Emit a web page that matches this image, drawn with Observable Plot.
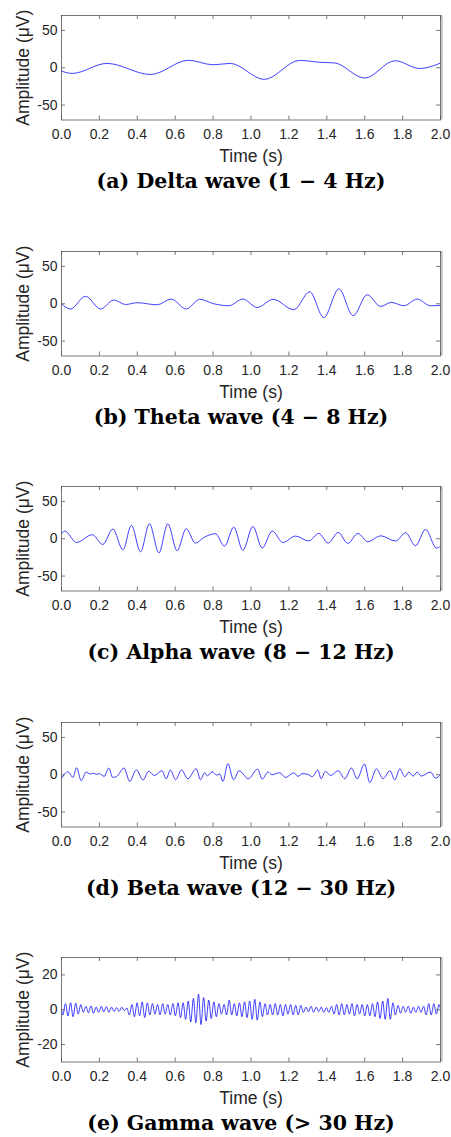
<!DOCTYPE html>
<html>
<head>
<meta charset="utf-8">
<script src="https://cdn.jsdelivr.net/npm/d3@7"></script>
<script src="https://cdn.jsdelivr.net/npm/@observablehq/plot@0.6"></script>
<style>
  html, body { margin: 0; padding: 0; background: #fff; }
  #fig { position: relative; width: 451px; height: 1137px; background: #fff; overflow: hidden; }
  .panel { position: absolute; left: 0; width: 451px; }
  .cap { position: absolute; left: 0; width: 482px; text-align: center;
         font-family: "DejaVu Serif", serif; font-weight: bold; font-size: 20.5px;
         line-height: 20px; color: #000; white-space: nowrap; }
</style>
</head>
<body>
<div id="fig"></div>
<script>
// ---------- data ----------
const xTicks = [0, 0.2, 0.4, 0.6, 0.8, 1.0, 1.2, 1.4, 1.6, 1.8, 2.0];
const yTicks50 = [-50, 0, 50];
const yTicks20 = [-20, 0, 20];

const captions = [
  "(a) Delta wave (1 − 4 Hz)",
  "(b) Theta wave (4 − 8 Hz)",
  "(c) Alpha wave (8 − 12 Hz)",
  "(d) Beta wave (12 − 30 Hz)",
  "(e) Gamma wave (> 30 Hz)"
];

const deltaT = [0, 0.056, 0.24, 0.47, 0.67, 0.80, 0.89, 1.07, 1.256, 1.37, 1.44, 1.60, 1.76, 1.89, 2.0];
const deltaV = [-4.5, -7.6, 5.8, -9, 10, 4, 5.8, -15.6, 9.8, 7.2, 6.5, -13.8, 9.4, -1, 6.2];

const thetaT = [0, 0.047, 0.127, 0.206, 0.276, 0.338, 0.40, 0.505, 0.579, 0.658, 0.73, 0.804, 0.883, 0.957, 1.033, 1.117, 1.226, 1.31, 1.384, 1.464, 1.539, 1.613, 1.684, 1.74, 1.807, 1.877, 1.947, 2.0];
const thetaV = [0, -7, 10, -7, 5, -1, 1.4, -1.4, 6.3, -7, 5.9, 0, -2.7, 6.3, -5, 5.9, -8, 16, -18.5, 20, -16, 12, -3.6, 1.8, -2.7, 6.3, -2.7, -2.2];

const alphaT = [0, 0.018, 0.079, 0.162, 0.218, 0.271, 0.324, 0.369, 0.417, 0.464, 0.514, 0.561, 0.61, 0.658, 0.707, 0.75, 0.813, 0.86, 0.909, 0.957, 1.01, 1.059, 1.112, 1.168, 1.235, 1.305, 1.358, 1.407, 1.46, 1.511, 1.564, 1.617, 1.684, 1.763, 1.816, 1.868, 1.921, 1.979, 2.0];
const alphaV = [6.7, 10.3, -5, 5.4, -7.6, 13, -14.7, 17.9, -17.4, 20, -18.8, 20, -16, 13.4, -6, 1.5, 6.7, -10, 15.6, -15.6, 16.5, -12.5, 10.3, -5, 3.6, -3, 7.1, -5.8, 8.5, -6.2, 7.1, -4, 4, -3, 8, -9.4, 12.5, -12.5, -10];

const betaT = [0, 0.035, 0.06, 0.08, 0.104, 0.13, 0.15, 0.165, 0.185, 0.2, 0.225, 0.25, 0.27, 0.29, 0.33, 0.36, 0.395, 0.43, 0.46, 0.49, 0.53, 0.552, 0.575, 0.602, 0.633, 0.667, 0.711, 0.734, 0.755, 0.77, 0.795, 0.818, 0.835, 0.852, 0.878, 0.908, 0.937, 0.986, 1.035, 1.059, 1.09, 1.11, 1.152, 1.182, 1.226, 1.248, 1.27, 1.3, 1.323, 1.353, 1.37, 1.393, 1.42, 1.46, 1.495, 1.53, 1.56, 1.599, 1.627, 1.662, 1.697, 1.733, 1.759, 1.785, 1.812, 1.833, 1.856, 1.877, 1.898, 1.947, 1.974, 2.0];
const betaV = [-5, 4, -3.6, 9.5, -8, 3.6, 1, 2, 0.5, 1.5, -2.2, 9, -3.6, -2.5, 9, -9, 6.7, -7, 4.5, -1, 5.4, -5.4, 6.3, -6.7, 6.3, -5.4, 8, -6.7, 2.7, -1.4, 4, -0.5, 1, -9, 14.9, -6.7, 5.4, -5.4, 7.6, -5.8, 3.6, 0, 2.7, -3.6, 2.7, -2.2, 1.5, 0.5, -2.5, 6.3, -5.4, 4.5, -1, 5.4, -5.4, 9, -5.4, 14.4, -10.4, 8, -5.4, 5.4, -7, 8, -2.7, 3.6, -1.8, 3.6, -1.8, 3.6, -4.5, 0];

const gammaT = [0, 0.007, 0.021, 0.034, 0.048, 0.061, 0.075, 0.088, 0.102, 0.115, 0.129, 0.142, 0.156, 0.169, 0.183, 0.196, 0.210, 0.223, 0.237, 0.250, 0.264, 0.277, 0.291, 0.304, 0.318, 0.331, 0.345, 0.358, 0.372, 0.385, 0.399, 0.412, 0.426, 0.439, 0.453, 0.466, 0.480, 0.493, 0.507, 0.520, 0.534, 0.547, 0.561, 0.574, 0.588, 0.601, 0.615, 0.628, 0.642, 0.655, 0.669, 0.682, 0.696, 0.709, 0.723, 0.736, 0.750, 0.763, 0.777, 0.790, 0.804, 0.817, 0.831, 0.844, 0.858, 0.871, 0.885, 0.898, 0.912, 0.925, 0.939, 0.952, 0.966, 0.979, 0.993, 1.006, 1.020, 1.033, 1.047, 1.060, 1.074, 1.087, 1.101, 1.114, 1.128, 1.141, 1.155, 1.168, 1.182, 1.195, 1.209, 1.222, 1.236, 1.249, 1.263, 1.276, 1.290, 1.303, 1.317, 1.330, 1.344, 1.357, 1.371, 1.384, 1.398, 1.411, 1.425, 1.438, 1.452, 1.465, 1.479, 1.492, 1.506, 1.519, 1.533, 1.546, 1.560, 1.573, 1.587, 1.600, 1.614, 1.627, 1.641, 1.654, 1.668, 1.681, 1.695, 1.708, 1.722, 1.735, 1.749, 1.762, 1.776, 1.789, 1.803, 1.816, 1.830, 1.843, 1.857, 1.870, 1.884, 1.897, 1.911, 1.924, 1.938, 1.951, 1.965, 1.978, 1.992, 2.0];
const gammaV = [0,
  -3, 3.5, -3.5, 4, -4, 3.8, -2.5, 3,
  -1.5, 2, -1.8, 2.2, -2, 1.5, -1.5, 2, -1.2, 1.8, -1.5, 1.5, -1, 1.2, -1, 1.5, -0.5, 1,
  -3, 3, -4, 4, -3.5, 4.5, -4.5, 4, -3, 3.5,
  -2.5, 3, -3, 3.5, -2.5, 3,
  -3, 3.5, -3.5, 4, -4.5, 4,
  -5.5, 5, -7, 6.5, -7.5, 9, -8.5, 7, -6.5, 5.5, -5, 4.5, -4, 3.5,
  -2.5, 3, -3, 5.5, -3, 3.5,
  -3.5, 4, -4, 4.5, -4.5, 5, -5.5, 6, -6, 4.5, -4, 3.5, -3,
  3, -3, 3.5, -3, 3, -3.5, 3, -2.5, 3, -3, 2.5, -3, 2.5,
  -1.5, 1.5, -1.2, 2, -1.5, 1.5, -1, 1.5, -1.5, 1.2, -1.5, 2,
  -2.5, 3, -3, 3.5, -3, 3, -2.5, 3.5, -3.5, 3, -2.5, 3, -3.5, 3,
  -3.5, 3.5, -4, 4.5, -5, 5, -5.5, 6.5, -5.5, 4,
  -3, 2.5, -2, 2, -1.5, 2, -2, 1.5, -1.5, 2, -1.5, 2,
  -3, 3.5, -3, 3.5, -2.5, 3,
  0.5];

// ---------- drawing ----------
const series = [
  {t: deltaT, v: deltaV, dom: [-70, 70], yt: yTicks50},
  {t: thetaT, v: thetaV, dom: [-70, 70], yt: yTicks50},
  {t: alphaT, v: alphaV, dom: [-70, 70], yt: yTicks50},
  {t: betaT,  v: betaV,  dom: [-70, 70], yt: yTicks50},
  {t: gammaT, v: gammaV, dom: [-30, 30], yt: yTicks20}
];

const W = 451, ML = 61, MR = 11, MT = 15, MB = 50.5, H = 170;
const PW = W - ML - MR, PH = H - MT - MB;
const pitch = 235.5;
const axisColor = "#555";
const fig = document.getElementById("fig");

series.forEach((s, i) => {
  const data = s.t.map((t, k) => ({t, v: s.v[k]}));
  const chart = Plot.plot({
    width: W, height: H,
    marginLeft: ML, marginRight: MR, marginTop: MT, marginBottom: MB,
    x: {domain: [0, 2]},
    y: {domain: s.dom},
    style: {fontFamily: "'Liberation Sans', Arial, sans-serif", fontSize: "14px", color: "#262626", background: "#fff", overflow: "visible"},
    marks: [
      Plot.line(data, {x: "t", y: "v", stroke: "#0000ff", strokeWidth: 0.75, curve: "monotone-x"}),
      Plot.ruleX([2], {stroke: "#c4c4c4", strokeWidth: 2.2, dx: 1.2}),
      Plot.frame({stroke: axisColor, strokeWidth: 0.8}),
      Plot.tickX(xTicks, {x: d => d, insetTop: PH - 4, stroke: axisColor, strokeWidth: 0.8}),
      Plot.tickX(xTicks, {x: d => d, insetBottom: PH - 4, stroke: axisColor, strokeWidth: 0.8}),
      Plot.tickY(s.yt, {y: d => d, insetRight: PW - 4, stroke: axisColor, strokeWidth: 0.8}),
      Plot.tickY(s.yt, {y: d => d, insetLeft: PW - 4, stroke: axisColor, strokeWidth: 0.8}),
      Plot.axisX(xTicks, {tickSize: 0, tickPadding: 9.5, tickFormat: d3.format(".1f"), label: null, fill: "#262626"}),
      Plot.axisY(s.yt, {tickSize: 0, tickPadding: 4, tickFormat: d => String(d), label: null, fill: "#262626"}),
      Plot.text(["Time (s)"], {text: d => d, frameAnchor: "bottom", lineAnchor: "middle", textAnchor: "middle", dy: 36, fontSize: 17.5, fill: "#262626"}),
      Plot.text(["Amplitude (μV)"], {text: d => d, frameAnchor: "left", lineAnchor: "middle", textAnchor: "middle", dx: -38, rotate: -90, fontSize: 17.5, fill: "#262626"})
    ]
  });
  const div = document.createElement("div");
  div.className = "panel";
  div.style.top = (i * pitch) + "px";
  div.appendChild(chart);
  fig.appendChild(div);

  const cap = document.createElement("div");
  cap.className = "cap";
  cap.style.top = (i * pitch + 171) + "px";
  cap.textContent = captions[i];
  fig.appendChild(cap);
});
</script>
</body>
</html>
